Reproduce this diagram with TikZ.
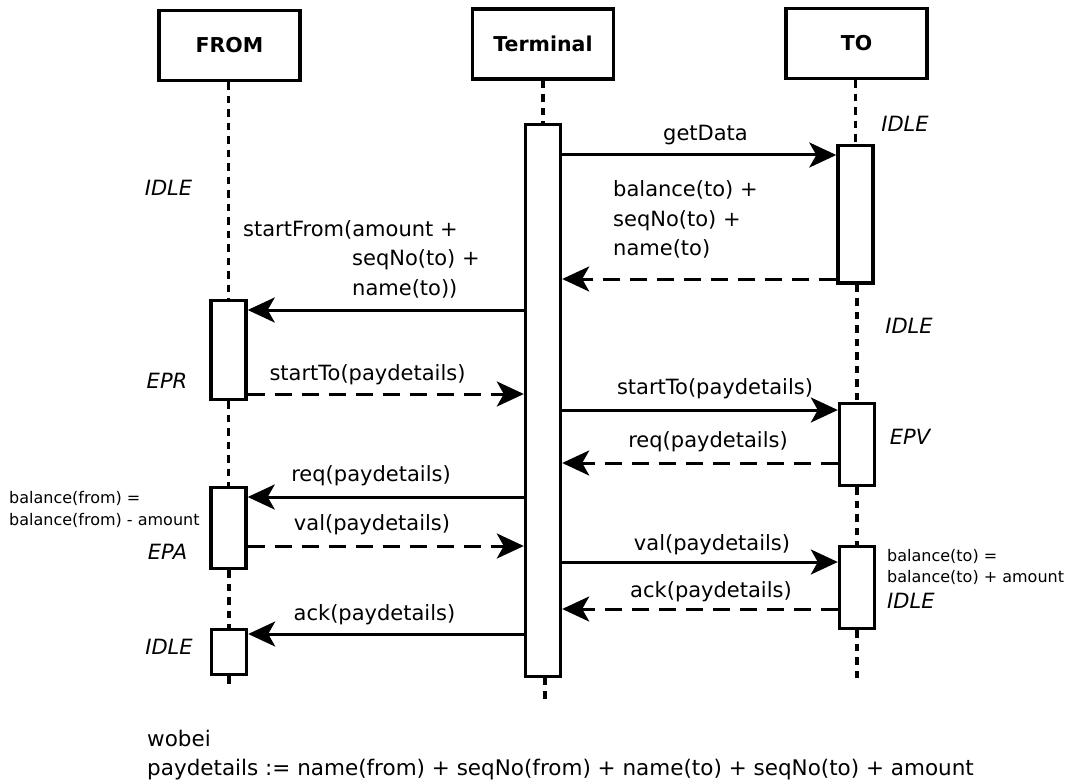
\documentclass[tikz,border=0pt]{standalone}
\usepackage{fontspec}
\setmainfont{DejaVu Sans}[ItalicFont={DejaVu Sans Oblique},BoldFont={DejaVu Sans Bold}]
\usetikzlibrary{arrows.meta}
\pgfdeclarelayer{background}
\pgfsetlayers{background,main}
\begin{document}
\begin{tikzpicture}[x=1pt,y=-1pt,
  actor/.style={draw, line width=3.3pt, minimum width=141pt, minimum height=70pt,
    inner sep=0pt, font=\fontsize{20.5}{24}\selectfont\bfseries},
  actbox/.style={draw, fill=white, line width=3.4pt, minimum width=35pt, inner sep=0pt},
  life/.style={line width=3.5pt, dash pattern=on 7.5pt off 6pt},
  msg/.style={line width=3pt, -{Stealth[length=27pt,width=25pt,inset=7pt]}},
  reply/.style={msg, dash pattern=on 17pt off 10pt},
  lbl/.style={inner sep=0pt, font=\fontsize{21}{29.5}\selectfont, anchor=base},
  state/.style={lbl, font=\fontsize{21}{29.5}\selectfont\itshape},
  note/.style={inner sep=0pt, font=\fontsize{16}{22}\selectfont, anchor=base west}
]
\useasboundingbox (0,0) rectangle (1071,781);

% participants
\node[actor] (from) at (229.5,45.5) {FROM};
\node[actor] (term) at (543,44) {Terminal};
\node[actor] (to)   at (856.5,43.5) {TO};

% activation bars
\node[actbox, minimum height=552pt] (ta)  at (543,400.25) {};
\node[actbox, minimum height=98.7pt] (fa1) at (228.5,350) {};
\node[actbox, minimum height=80.7pt] (fa2) at (228.5,528) {};
\node[actbox, minimum height=44.7pt] (fa3) at (229,652) {};
\node[actbox, minimum height=137.7pt] (oa1) at (855.5,214.25) {};
\node[actbox, minimum height=81.7pt] (oa2) at (857,444.5) {};
\node[actbox, minimum height=81.7pt] (oa3) at (857,587.5) {};

\coordinate (fend) at (229,686);
\coordinate (tend) at (545,703);
\coordinate (oend) at (857,684);

% lifelines, behind the bars
\begin{pgfonlayer}{background}
\draw[life] (from.south -| fa1.north) -- (fa1.north);
\draw[life] (fa1.south) -- (fa2.north);
\draw[life] (fa2.south -| fa3.north) -- (fa3.north);
\draw[life] (fa3.south) -- (fend);
\draw[life] (term.south) -- (ta.north);
\draw[life] (ta.south -| tend) -- (tend);
\draw[life] (to.south -| oa1.north) -- (oa1.north);
\draw[life] (oa1.south -| oa2.north) -- (oa2.north);
\draw[life] (oa2.south) -- (oa3.north);
\draw[life] (oa3.south) -- (oend);
\end{pgfonlayer}

% messages
\draw[msg]   (ta.east |- 0,155) -- (oa1.west |- 0,155);
\draw[reply] (oa1.west |- 0,279) -- (ta.east |- 0,279);
\draw[msg]   (ta.west |- 0,310) -- (fa1.east |- 0,310);
\draw[reply] (fa1.east |- 0,394) -- (ta.west |- 0,394);
\draw[msg]   (ta.east |- 0,410) -- (oa2.west |- 0,410);
\draw[reply] (oa2.west |- 0,463) -- (ta.east |- 0,463);
\draw[msg]   (ta.west |- 0,497) -- (fa2.east |- 0,497);
\draw[reply] (fa2.east |- 0,546) -- (ta.west |- 0,546);
\draw[msg]   (ta.east |- 0,562) -- (oa3.west |- 0,562);
\draw[reply] (oa3.west |- 0,609) -- (ta.east |- 0,609);
\draw[msg]   (ta.west |- 0,634) -- (fa3.east |- 0,634);

% message labels
\node[lbl] (l1) at (705.5,141) {getData};
\node[lbl, anchor=base west, align=left] (l2) at (613,255.5) {balance(to) +\\seqNo(to) +\\name(to)};
\node[lbl, anchor=base west] (l3a) at (243,236) {startFrom(amount +};
\node[lbl, anchor=base west, align=left] (l3b) at (352,295) {seqNo(to) +\\name(to))};
\node[lbl] (l4) at (367.5,380) {startTo(paydetails)};
\node[lbl] (l5) at (715,394) {startTo(paydetails)};
\node[lbl] (l6) at (708,447) {req(paydetails)};
\node[lbl] (l7) at (371,481) {req(paydetails)};
\node[lbl] (l8) at (372,530) {val(paydetails)};
\node[lbl] (l9) at (712,550) {val(paydetails)};
\node[lbl] (l10) at (711,597) {ack(paydetails)};
\node[lbl] (l11) at (374.5,620) {ack(paydetails)};

% states
\node[state] (s1) at (168.5,195) {IDLE};
\node[state] (s2) at (167,388) {EPR};
\node[state] (s3) at (167.5,559) {EPA};
\node[state] (s4) at (169,654.5) {IDLE};
\node[state] (s5) at (905,131.5) {IDLE};
\node[state] (s6) at (909,333.5) {IDLE};
\node[state] (s7) at (910,444) {EPV};
\node[state, anchor=base west] (s8) at (887,608) {IDLE};

% balance updates
\node[note] (n1a) at (9,503) {balance(from) =};
\node[note] (n1b) at (9,525) {balance(from) - amount};
\node[note] (n2a) at (887,561) {balance(to) =};
\node[note] (n2b) at (887,582) {balance(to) + amount};

% footnote
\node[lbl, anchor=base west, font=\fontsize{21.5}{29.5}\selectfont] (f1) at (147,746) {wobei};
\node[lbl, anchor=base west, font=\fontsize{21.5}{29.5}\selectfont] (f2) at (147,775) {paydetails := name(from) + seqNo(from) + name(to) + seqNo(to) + amount};
\end{tikzpicture}
\end{document}
